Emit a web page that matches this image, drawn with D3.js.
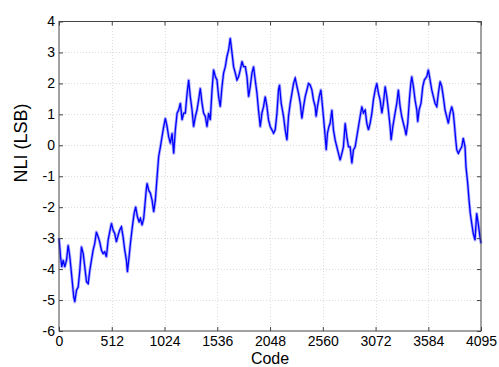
<!DOCTYPE html>
<html>
<head>
<meta charset="utf-8">
<script src="https://cdn.jsdelivr.net/npm/d3@7"></script>
<style>
  html, body { margin: 0; padding: 0; background: #fff; }
  svg { display: block; }
  text { font-family: "Liberation Sans", Arial, Helvetica, sans-serif; }
</style>
</head>
<body>
<svg id="chart" width="499" height="367"></svg>
<script>
// Codes
const codes = [0,15,27,41,56,73,89,105,121,143,153,170,186,202,218,235,250,267,283,299,315,331,347,363,380,395,412,428,444,460,477,492,509,525,541,557,574,589,606,622,638,654,664,680,693,712,729,744,761,777,790,806,822,835,848,855,870,887,903,919,935,952,967,984,1000,1016,1032,1049,1064,1081,1097,1113,1129,1146,1161,1178,1194,1210,1226,1243,1258,1274,1291,1306,1323,1339,1355,1371,1388,1403,1420,1436,1452,1468,1485,1500,1517,1533,1549,1565,1582,1597,1614,1630,1646,1662,1679,1694,1711,1727,1743,1759,1776,1791,1808,1824,1840,1856,1872,1888,1904,1921,1936,1953,1969,1985,2001,2018,2033,2050,2066,2082,2098,2115,2130,2140,2156,2179,2195,2212,2227,2244,2260,2276,2292,2309,2324,2341,2357,2373,2389,2406,2421,2437,2454,2469,2486,2495,2508,2525,2541,2554,2566,2583,2593,2605,2619,2631,2648,2663,2680,2696,2712,2728,2745,2760,2777,2793,2809,2825,2842,2857,2874,2890,2906,2922,2939,2954,2971,2987,3003,3019,3036,3051,3068,3084,3100,3116,3133,3148,3165,3181,3196,3213,3223,3239,3261,3278,3293,3310,3326,3342,3358,3368,3384,3400,3414,3423,3439,3455,3472,3481,3494,3513,3530,3545,3569,3584,3601,3617,3633,3649,3666,3681,3698,3714,3729,3746,3762,3778,3794,3811,3826,3836,3850,3860,3875,3891,3908,3923,3940,3949,3966,3979,3991,4005,4020,4037,4053,4068,4085,4095];
// NLI values (LSB) at those codes
const nli = [-3.0,-3.6,-3.93,-3.71,-3.93,-3.71,-3.23,-3.6,-4.14,-4.9,-5.06,-4.68,-4.58,-4.04,-3.28,-3.5,-3.93,-4.41,-4.47,-4.04,-3.71,-3.39,-3.17,-2.8,-2.96,-3.12,-3.39,-3.5,-3.44,-3.6,-3.06,-2.8,-2.52,-2.74,-2.85,-3.12,-2.9,-2.74,-2.63,-2.96,-3.39,-3.71,-4.09,-3.6,-3.17,-2.63,-2.2,-1.99,-2.31,-2.47,-2.36,-2.58,-2.36,-1.88,-1.39,-1.23,-1.45,-1.55,-1.77,-2.15,-1.77,-1.02,-0.37,-0.05,0.28,0.6,0.87,0.6,0.28,0.06,0.39,-0.26,0.5,1.04,1.14,1.36,0.82,1.04,1.04,1.68,2.11,1.57,1.14,0.6,0.93,1.14,1.47,1.84,1.36,1.04,0.93,0.6,1.04,0.82,1.79,2.44,2.22,2.11,1.57,1.25,1.9,2.33,2.54,2.87,3.08,3.46,2.98,2.54,2.33,2.11,2.22,2.44,2.71,2.54,2.54,2.22,1.57,1.9,2.33,2.54,2.11,1.68,1.14,0.6,1.04,1.25,1.57,1.25,0.82,0.6,0.5,0.39,0.5,1.04,1.79,1.95,1.36,0.93,0.5,0.17,0.93,1.36,1.68,2.0,2.17,1.9,1.68,1.36,0.87,1.25,1.57,1.79,2.0,1.95,1.79,1.47,1.25,0.93,1.25,1.57,1.79,1.36,0.93,0.28,-0.15,0.39,0.6,0.71,1.14,0.5,0.17,-0.05,-0.26,-0.48,-0.26,-0.05,0.71,0.28,-0.05,-0.05,-0.58,-0.15,-0.05,0.28,0.6,0.93,1.25,1.04,1.14,0.71,0.5,0.71,1.04,1.47,1.79,2.0,1.68,1.47,1.04,1.36,1.9,1.57,1.14,0.6,0.17,0.6,1.04,1.36,1.79,1.25,0.93,0.71,0.5,0.33,0.71,1.47,2.0,2.22,1.9,1.47,1.14,0.76,1.14,1.36,1.9,2.11,2.22,2.44,2.11,1.79,1.57,1.36,1.25,1.68,2.06,1.9,1.57,1.14,0.93,0.71,1.04,1.25,1.04,0.71,0.17,-0.15,-0.26,-0.15,-0.05,0.23,-0.05,-0.69,-1.23,-1.77,-2.2,-2.52,-2.85,-3.06,-2.2,-2.52,-2.96,-3.17];
const xTicks = [0,512,1024,1536,2048,2560,3072,3584,4095];
const yTicks = [-6,-5,-4,-3,-2,-1,0,1,2,3,4];
const xLabel = "Code";
const yLabel = "NLI (LSB)";

const svg = d3.select("#chart");
const W = 499, H = 367;
const L = 59, R = 481, T = 21.5, B = 331;

svg.append("rect").attr("width", W).attr("height", H).attr("fill", "#fff");

const x = d3.scaleLinear().domain([0, 4095]).range([L, R]);
const y = d3.scaleLinear().domain([-6, 4]).range([B, T]);

// grid
const grid = svg.append("g").attr("stroke", "#d4d4d4").attr("stroke-width", 0.8)
  .attr("stroke-dasharray", "1,2").attr("shape-rendering", "crispEdges");
grid.selectAll("line.gx").data(xTicks.slice(1, -1)).join("line")
  .attr("x1", d => Math.round(x(d)) + 0.5).attr("x2", d => Math.round(x(d)) + 0.5)
  .attr("y1", T).attr("y2", B);
grid.selectAll("line.gy").data(yTicks.slice(1, -1)).join("line")
  .attr("y1", d => Math.round(y(d)) + 0.5).attr("y2", d => Math.round(y(d)) + 0.5)
  .attr("x1", L).attr("x2", R);

// data line
const pts = codes.map((c, i) => [c, nli[i]]);
const line = d3.line().x(d => x(d[0])).y(d => y(d[1]));
svg.append("path").datum(pts).attr("d", line)
  .attr("fill", "none").attr("stroke", "#4646ff").attr("stroke-opacity", 0.45)
  .attr("stroke-width", 3.0).attr("stroke-linejoin", "round");
svg.append("path").datum(pts).attr("d", line)
  .attr("fill", "none").attr("stroke", "#0000ff")
  .attr("stroke-width", 1.3).attr("stroke-linejoin", "miter").attr("stroke-miterlimit", 4);

// axes
const fs = "14px";
svg.append("g").attr("transform", `translate(0,${B})`)
  .call(d3.axisBottom(x).tickValues(xTicks).tickFormat(d3.format("d")).tickSize(-4).tickPadding(5));
svg.append("g").attr("transform", `translate(${L},0)`)
  .call(d3.axisLeft(y).tickValues(yTicks).tickFormat(d => d).tickSize(-4).tickPadding(4));
svg.append("g").attr("transform", `translate(0,${T})`)
  .call(d3.axisTop(x).tickValues(xTicks).tickFormat("").tickSize(-4));
svg.append("g").attr("transform", `translate(${R},0)`)
  .call(d3.axisRight(y).tickValues(yTicks).tickFormat("").tickSize(-4));
svg.selectAll(".domain").remove();
svg.selectAll(".tick line").attr("stroke", "#444");
svg.selectAll(".tick text").attr("font-size", fs).attr("fill", "#000")
  .attr("font-family", "'Liberation Sans', Arial, sans-serif");

// box
svg.append("rect").attr("x", L).attr("y", T).attr("width", R - L).attr("height", B - T)
  .attr("fill", "none").attr("stroke", "#444").attr("stroke-width", 1);

// axis labels
svg.append("text").attr("x", (L + R) / 2).attr("y", 363.6)
  .attr("text-anchor", "middle").attr("font-size", "16px").attr("fill", "#000").text(xLabel);
svg.append("text").attr("transform", "translate(26.5,143) rotate(-90)")
  .attr("text-anchor", "middle").attr("font-size", "18px").attr("fill", "#000").text(yLabel);
</script>
</body>
</html>
